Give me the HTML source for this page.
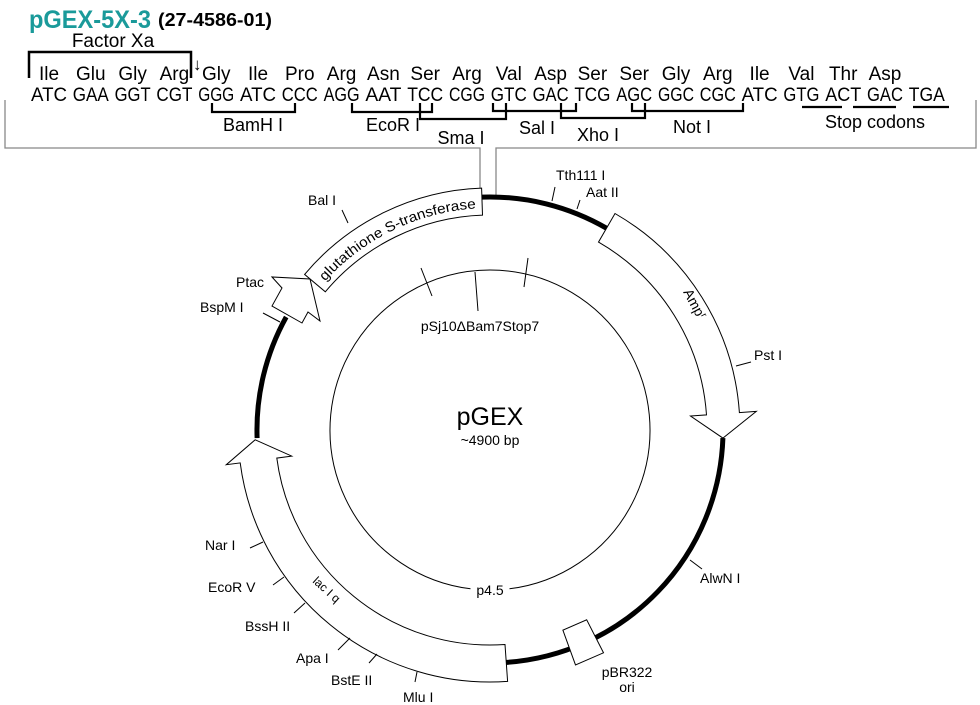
<!DOCTYPE html>
<html><head><meta charset="utf-8">
<style>
html,body{margin:0;padding:0;background:#fff;}
svg{display:block;}
text{font-family:"Liberation Sans Narrow","Liberation Sans",sans-serif;fill:#000;}
</style></head>
<body>
<svg id="s" width="980" height="705" viewBox="0 0 980 705" xmlns="http://www.w3.org/2000/svg">
<text x="29" y="28" font-size="25" font-weight="bold" style="fill:#1a9a9a" textLength="122" lengthAdjust="spacingAndGlyphs">pGEX-5X-3</text>
<text x="158" y="26" font-size="18" font-weight="bold" textLength="114" lengthAdjust="spacingAndGlyphs">(27-4586-01)</text>
<text x="113" y="47" font-size="19" text-anchor="middle">Factor Xa</text>
<polyline points="29,78 29,52 191,52 191,78" fill="none" stroke="#000" stroke-width="2.5"/>
<text x="193" y="70" font-size="17">↓</text>
<g id="seq"></g>
<g fill="none" stroke="#000" stroke-width="2.2">
<polyline points="212,103 212,112 295,112 295,103"/>
<polyline points="352,103 352,112 432,112 432,103"/>
<polyline points="420,103 420,119 506,119 506,103"/>
<polyline points="493,103 493,111 576,111 576,103"/>
<polyline points="561,103 561,118 645,118 645,103"/>
<polyline points="632,103 632,111 743,111 743,103"/>
<line x1="802" y1="107" x2="842" y2="107"/>
<line x1="853" y1="107" x2="896" y2="107"/>
<line x1="913" y1="107" x2="949" y2="107"/>
</g>
<g font-size="18" text-anchor="middle">
<text x="253" y="131">BamH I</text>
<text x="393" y="131">EcoR I</text>
<text x="461" y="144">Sma I</text>
<text x="537" y="134">Sal I</text>
<text x="598" y="141">Xho I</text>
<text x="692" y="133">Not I</text>
<text x="875" y="128">Stop codons</text>
</g>
<g fill="none" stroke="#888" stroke-width="1.3">
<polyline points="5,100 5,148 480,148 480,192"/>
<polyline points="976,100 976,148 496,148 496,197"/>
</g>
<g id="map" fill="none" stroke="#000" stroke-width="1"></g>
<g font-size="14">
<text x="308" y="205">Bal I</text>
<text x="556" y="180">Tth111 I</text>
<text x="586" y="197">Aat II</text>
<text x="754" y="360">Pst I</text>
<text x="236" y="287">Ptac</text>
<text x="200" y="312">BspM I</text>
<text x="700" y="583">AlwN I</text>
<text x="205" y="550">Nar I</text>
<text x="208" y="592">EcoR V</text>
<text x="245" y="631">BssH II</text>
<text x="296" y="663">Apa I</text>
<text x="331" y="685">BstE II</text>
<text x="403" y="702">Mlu I</text>
<text x="627" y="677" text-anchor="middle">pBR322</text>
<text x="627" y="692" text-anchor="middle">ori</text>
<text x="480" y="331" text-anchor="middle">pSj10ΔBam7Stop7</text>
<text x="490" y="595" text-anchor="middle">p4.5</text>
<text x="490" y="425" font-size="25" text-anchor="middle">pGEX</text>
<text x="490" y="445" font-size="14" text-anchor="middle">~4900 bp</text>
<text transform="translate(683,292) rotate(62)" font-size="14">Amp<tspan font-size="9" dy="-5">r</tspan></text>
<text transform="translate(312,582) rotate(42)" font-size="12">lac I <tspan>q</tspan></text>
</g>
</svg>
<script>
var NS="http://www.w3.org/2000/svg",cx=490,cy=430;
function P(a,r){a=a*Math.PI/180;return [(cx+r*Math.cos(a)).toFixed(1),(cy+r*Math.sin(a)).toFixed(1)];}
function pt(a,r){return P(a,r).join(",");}
function el(par,tag,at){var e=document.createElementNS(NS,tag);for(var k in at)e.setAttribute(k,at[k]);par.appendChild(e);return e;}
var seq=document.getElementById("seq");
var cod="ATC GAA GGT CGT GGG ATC CCC AGG AAT TCC CGG GTC GAC TCG AGC GGC CGC ATC GTG ACT GAC TGA".split(" ");
var aa="Ile Glu Gly Arg Gly Ile Pro Arg Asn Ser Arg Val Asp Ser Ser Gly Arg Ile Val Thr Asp".split(" ");
for(var i=0;i<cod.length;i++){var x=31+41.8*i;
 var t=el(seq,"text",{x:x,y:101,"font-size":19,textLength:36,lengthAdjust:"spacingAndGlyphs"});t.textContent=cod[i];
 if(i<aa.length){var t2=el(seq,"text",{x:x+18,y:80,"font-size":19,"text-anchor":"middle"});t2.textContent=aa[i];}}
var m=document.getElementById("map");
function arcD(a1,a2,r){var l=Math.abs(a2-a1)>180?1:0,sw=a2>a1?1:0;return "A"+r+","+r+" 0 "+l+" "+sw+" "+pt(a2,r);}
// backbone
[[-92,-60],[2,86],[178,209]].forEach(function(s){el(m,"path",{d:"M"+pt(s[0],233)+arcD(s[0],s[1],233),"stroke-width":5});});
// inner circle with gap
el(m,"path",{d:"M"+pt(97,160)+arcD(97,83+360-360,160).replace(" 0 0 0 "," 0 1 1 ")});
// GST band
el(m,"path",{id:"gst",d:"M"+pt(-92,242)+arcD(-92,-140,242)+"L"+pt(-140,215)+arcD(-140,-92,215)+"Z",fill:"#fff"});
// Amp arrow
el(m,"path",{d:"M"+pt(-60,250)+arcD(-60,-4,250)+"L"+pt(-4,267)+"L"+pt(2,233)+"L"+pt(-4,201)+"L"+pt(-4,217)+arcD(-4,-60,217)+"Z",fill:"#fff"});
// lacI arrow
el(m,"path",{d:"M"+pt(86,252)+arcD(86,172.5,252)+"L"+pt(172.5,266)+"L"+pt(177.6,235)+"L"+pt(172.5,200)+"L"+pt(172.5,215)+arcD(172.5,86,215)+"Z",fill:"#fff"});
// ori box
el(m,"path",{d:"M"+pt(63,213)+"L"+pt(63,250)+"L"+pt(70,250)+"L"+pt(70,213)+"Z",fill:"#fff"});
// Ptac
el(m,"polygon",{points:"272,277 282,288 272,306 302,323 308,312 320,321 310,279",fill:"#fff"});
// ticks
[[342,210,348,223],[555,187,552,201],[580,200,577,209],[736,366,751,362],[263,313,280,322],[690,560,702,569],[250,548,263,542],[273,585,284,577],[294,613,305,603],[338,650,350,638],[369,663,377,654],[415,682,417,672],[421,268,432,296],[475,272,478,311],[528,258,524,287]].forEach(function(q){el(m,"line",{x1:q[0],y1:q[1],x2:q[2],y2:q[3]});});
// GST text on path
var gp=el(m,"path",{id:"gpath",d:"M"+pt(-138,222)+arcD(-138,-93,222),stroke:"none"});
var gt=el(document.getElementById("s"),"text",{"font-size":14});
var tp=el(gt,"textPath",{href:"#gpath",textLength:"172",lengthAdjust:"spacingAndGlyphs"});
tp.setAttributeNS("http://www.w3.org/1999/xlink","xlink:href","#gpath");
tp.textContent="glutathione S-transferase";
</script>
</body></html>
